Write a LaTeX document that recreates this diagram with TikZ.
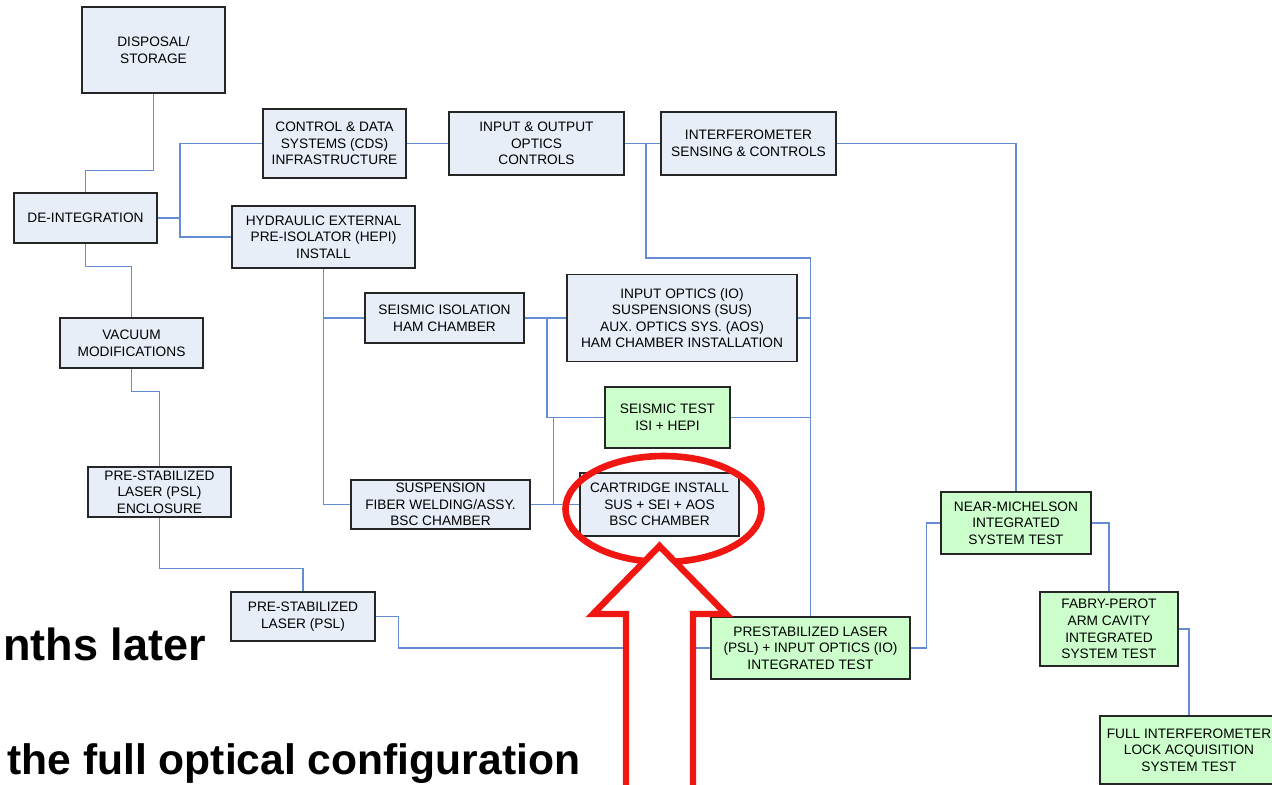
\documentclass[tikz,border=0pt]{standalone}
\usepackage{fontspec}
\setmainfont{Liberation Sans}
\usepackage{tikz}
\usetikzlibrary{calc}
\definecolor{boxblue}{RGB}{232,238,248}
\definecolor{boxgreen}{RGB}{204,255,204}
\definecolor{linkblue}{RGB}{100,140,210}
\definecolor{alertred}{RGB}{240,22,18}
\def\redoval{(663.5,509) ellipse (49pt and 26.5pt)}
\def\bigarrow{(626,800) -- (626,614) -- (593,614) -- (659.5,546) -- (726,614) -- (693,614) -- (693,800)}

\begin{document}
\begin{tikzpicture}[x=0.5pt, y=-0.5pt, font=\fontsize{6.85}{8.3}\selectfont,
	blk/.style={draw=black!85, line width=0.6pt, fill=boxblue, align=center, inner sep=1pt},
	tst/.style={blk, fill=boxgreen},
	sz/.style 2 args={minimum width=#1*0.5pt, minimum height=#2*0.5pt},
	link/.style={draw=linkblue, line width=0.65pt},
	big/.style={font=\fontsize{#1}{#1}\selectfont\bfseries, inner sep=0pt}]
	\useasboundingbox (0,0) rectangle (1272,784);
	\clip (0,0) rectangle (1272,784);
	\fill[white] (0,0) rectangle (1272,784);
	% boxes
	\node[blk, sz={143}{86}] (dispo) at (153.5,50) {DISPOSAL/\\STORAGE};
	\node[blk, sz={143}{69}] (cds) at (334.5,143.5) {CONTROL \& DATA\\SYSTEMS (CDS)\\INFRASTRUCTURE};
	\node[blk, sz={143}{50}] (deint) at (85.5,218) {DE-INTEGRATION};
	\node[blk, sz={183}{62}] (hepi) at (323.5,237) {HYDRAULIC EXTERNAL\\PRE-ISOLATOR (HEPI)\\INSTALL};
	\node[blk, sz={175}{63}] (iooc) at (536.5,143.5) {INPUT \& OUTPUT\\OPTICS\\CONTROLS};
	\node[blk, sz={175}{63}] (isc) at (748.5,143.5) {INTERFEROMETER\\SENSING \& CONTROLS};
	\node[blk, sz={230}{87}] (iosus) at (682,318) {INPUT OPTICS (IO)\\SUSPENSIONS (SUS)\\AUX. OPTICS SYS. (AOS)\\HAM CHAMBER INSTALLATION};
	\node[blk, sz={159}{50}] (seiham) at (444.5,318) {SEISMIC ISOLATION\\HAM CHAMBER};
	\node[tst, sz={125}{61}] (seitest) at (667.5,417.5) {SEISMIC TEST\\ISI + HEPI};
	\node[blk, sz={179}{49}] (susfib) at (440.5,504.5) {SUSPENSION\\FIBER WELDING/ASSY.\\BSC CHAMBER};
	\node[blk, sz={159}{63}] (cart) at (659.5,504.5) {CARTRIDGE INSTALL\\SUS + SEI + AOS\\BSC CHAMBER};
	\node[blk, sz={143}{50}] (vac) at (131.5,343) {VACUUM\\MODIFICATIONS};
	\node[blk, sz={143}{50}] (pslenc) at (159.5,492) {PRE-STABILIZED\\LASER (PSL)\\ENCLOSURE};
	\node[blk, sz={144}{49}] (psl) at (303,616.5) {PRE-STABILIZED\\LASER (PSL)};
	\node[tst, sz={199}{62}] (pslio) at (810.5,648) {PRESTABILIZED LASER\\(PSL) + INPUT OPTICS (IO)\\INTEGRATED TEST};
	\node[tst, sz={150}{62}] (nearmich) at (1016,523) {NEAR-MICHELSON\\INTEGRATED\\SYSTEM TEST};
	\node[tst, sz={138}{74}] (fabry) at (1109,629) {FABRY-PEROT\\ARM CAVITY\\INTEGRATED\\SYSTEM TEST};
	\node[tst, sz={178}{68}] (fullifo) at (1189,750) {FULL INTERFEROMETER\\LOCK ACQUISITION\\SYSTEM TEST};
	% junctions
	\coordinate (dijoin) at (180,218);
	\coordinate (hamjoin) at (547,318);
	\coordinate (bscjoin) at (553.5,504.5);
	\coordinate (iojoin) at (646,143.5);
	\coordinate (bus) at (810.5,258);
	% links
	\draw[link] (dispo.south) -- ++(0,77) -| (deint);
	\draw[link] (deint) -- (dijoin) |- (cds);
	\draw[link] (dijoin) |- (hepi);
	\draw[link] (cds) -- (iooc);
	\draw[link] (iooc) -- (isc);
	\draw[link] (iojoin) |- (bus) -- (pslio);
	\draw[link] (isc) -| (nearmich);
	\draw[link] (hepi) |- (seiham);
	\draw[link] (hepi) |- (susfib);
	\draw[link] (seiham) -- (iosus);
	\draw[link] (hamjoin) |- (seitest);
	\draw[link] (susfib) -- (cart);
	\draw[link] (bscjoin) |- (seitest);
	\draw[link] (iosus) -- (iosus -| bus);
	\draw[link] (seitest) -- (seitest -| bus);
	\draw[link] (deint.south) -- ++(0,23) -| (vac);
	\draw[link] (vac.south) -- ++(0,23) -| (pslenc);
	\draw[link] (pslenc.south) -- ++(0,51) -| (psl);
	\draw[link] (psl.east) -- ++(23,0) |- (pslio);
	\draw[link] (pslio.east) -- ++(16,0) |- (nearmich);
	\draw[link] (nearmich) -| (fabry);
	\draw[link] (fabry) -| (fullifo);
	% slide text
	\node[big=22.5pt, anchor=base east] (later) at (206,660) {nths later};
	\node[big=21.3pt, anchor=base west] (config) at (7,774) {the full optical configuration};
	% highlight
	\draw[alertred, line width=3.3pt] \redoval;
	\filldraw[draw=alertred, fill=white, line width=3.2pt, miter limit=10] \bigarrow;
\end{tikzpicture}
\end{document}
